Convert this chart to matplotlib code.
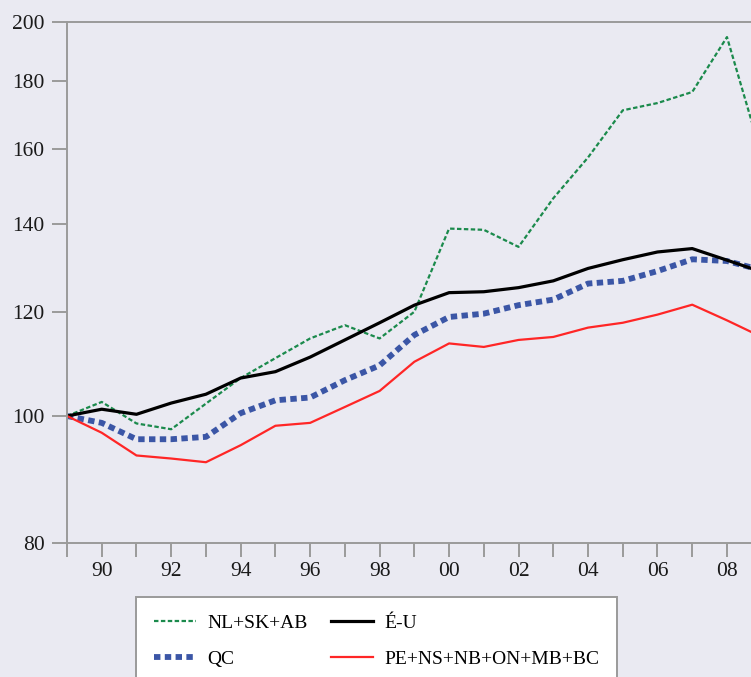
import numpy as np
import matplotlib
matplotlib.use("Agg")
import matplotlib.pyplot as plt
from matplotlib.ticker import FixedLocator, FixedFormatter, NullLocator

years = list(range(1989, 2010))

# index 1989 = 100
nl_sk_ab = [100, 102.5, 98.7, 97.7, 102.2, 106.9, 110.7, 114.6, 117.3, 114.6, 120.1,
            139.0, 138.7, 134.6, 146.6, 157.5, 171.1, 173.3, 176.7, 194.6, 158.0]
qc = [100, 98.8, 96.0, 96.0, 96.4, 100.5, 102.8, 103.3, 106.5, 109.3, 115.3,
      119.0, 119.7, 121.5, 122.7, 126.2, 126.8, 129.0, 131.7, 131.3, 129.2]
e_u = [100, 101.2, 100.3, 102.3, 103.9, 106.9, 108.1, 110.9, 114.3, 117.8, 121.5,
       124.2, 124.4, 125.3, 126.8, 129.6, 131.6, 133.4, 134.2, 131.5, 128.8]
autres = [100, 97.1, 93.3, 92.8, 92.2, 95.0, 98.3, 98.8, 101.6, 104.5, 110.0,
          113.6, 112.9, 114.3, 114.9, 116.8, 117.8, 119.5, 121.6, 118.3, 114.9]

y_ticks = [80, 100, 120, 140, 160, 180, 200]
x_label_years = list(range(1990, 2009, 2))

bg = "#eaeaf2"
grey = "#9a9a9a"
plt.rcParams['font.family'] = ['Liberation Serif', 'DejaVu Serif']

fig = plt.figure(figsize=(7.51, 6.77), dpi=100, facecolor=bg)
W, H = 751, 677
ax = fig.add_axes([67 / W, 1 - 543 / H, (761.7 - 67) / W, (543 - 21.5) / H])
ax.set_facecolor(bg)

l1, = ax.plot(years, nl_sk_ab, color="#1b8a4c", lw=1.6, ls=(0, (2.0, 1.1)))
l2, = ax.plot(years, qc, color="#3b56a6", lw=4.2, ls=(0, (1.1, 0.75)))
l3, = ax.plot(years, e_u, color="black", lw=2.3)
l4, = ax.plot(years, autres, color="#ff2626", lw=1.6)

ax.set_yscale("log")
ax.set_ylim(80, 200)
ax.set_xlim(1989, 2009)
ax.yaxis.set_major_locator(FixedLocator(y_ticks))
ax.yaxis.set_major_formatter(FixedFormatter([str(v) for v in y_ticks]))
ax.yaxis.set_minor_locator(NullLocator())
ax.set_xticks(years)
ax.set_xticklabels([f"{y % 100:02d}" if y in x_label_years else "" for y in years])

for s in ax.spines.values():
    s.set_color(grey)
    s.set_linewidth(1.4)
ax.tick_params(axis="both", colors=grey, width=1.4, labelcolor="#1a1a1a", labelsize=15.5)
ax.tick_params(axis="y", length=11, pad=5)
ax.tick_params(axis="x", length=10, pad=4)

leg = fig.legend([l1, l2, l3, l4], ["NL+SK+AB", "QC", "É-U", "PE+NS+NB+ON+MB+BC"],
                 ncol=2, loc="upper left", bbox_to_anchor=(136 / W, 1 - 597 / H),
                 frameon=True, fancybox=False, framealpha=1, fontsize=14, handlelength=2.2,
                 handletextpad=0.55, columnspacing=1.2, borderpad=0.9, labelspacing=0.95,
                 borderaxespad=0)
leg.get_frame().set_edgecolor(grey)
leg.get_frame().set_linewidth(1.4)
leg.get_frame().set_facecolor("white")

fig.savefig("out.png", dpi=100, facecolor=bg)
